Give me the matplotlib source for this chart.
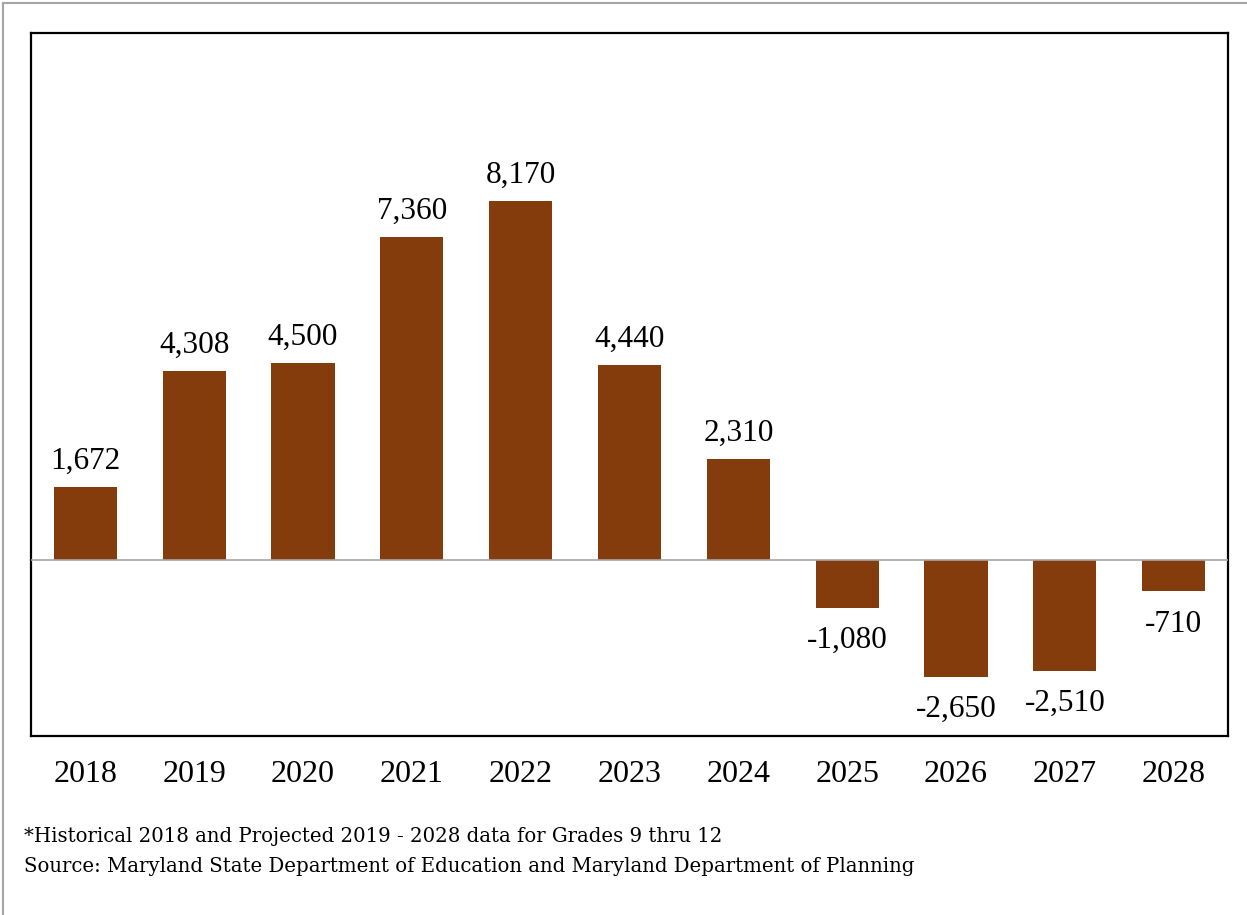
import matplotlib.pyplot as plt
from matplotlib.lines import Line2D

# ---------- data ----------
years = ['2018', '2019', '2020', '2021', '2022', '2023', '2024', '2025', '2026', '2027', '2028']
change = [1672, 4308, 4500, 7360, 8170, 4440, 2310, -1080, -2650, -2510, -710]
notes = ['*Historical 2018 and Projected 2019 - 2028 data for Grades 9 thru 12',
         'Source: Maryland State Department of Education and Maryland Department of Planning']

plt.rcParams['font.family'] = ['Liberation Serif', 'DejaVu Serif']

W, H = 1247, 915
fig = plt.figure(figsize=(W / 100, H / 100), dpi=100)
ax = fig.add_axes([31 / W, 1 - 736 / H, (1228 - 31) / W, (736 - 33) / H])

x = range(len(years))
ax.bar(x, change, width=0.58, color='#843C0C', zorder=2)
ax.axhline(0, color='#A6A6A6', lw=1.2, zorder=3)

# value labels
for i, v in enumerate(change):
    txt = '{:,}'.format(v)
    off = 13 if v >= 0 else -29
    ax.annotate(txt, (i, v), xytext=(0, off), textcoords='offset points',
                ha='center', va='baseline', fontsize=22.5)

ax.set_xlim(-0.5, len(years) - 0.5)
ax.set_ylim(-4000, 12000)
ax.set_xticks(list(x))
ax.set_xticklabels(years, fontsize=23)
ax.set_yticks([])
ax.tick_params(axis='x', length=0, pad=17)
for s in ax.spines.values():
    s.set_color('black')
    s.set_linewidth(1.6)

# footnotes
fig.text(24 / W, 1 - 837 / H, notes[0], fontsize=14.2, va='center', ha='left', family='DejaVu Serif')
fig.text(24 / W, 1 - 867 / H, notes[1], fontsize=14.2, va='center', ha='left', family='DejaVu Serif')

# outer frame (top and left only)
fig.add_artist(Line2D([3 / W, 3 / W], [0, 1 - 3 / H], color='#A6A6A6', lw=1.5, transform=fig.transFigure))
fig.add_artist(Line2D([3 / W, 1], [1 - 3 / H, 1 - 3 / H], color='#A6A6A6', lw=1.5, transform=fig.transFigure))

fig.savefig('out.png', dpi=100)
